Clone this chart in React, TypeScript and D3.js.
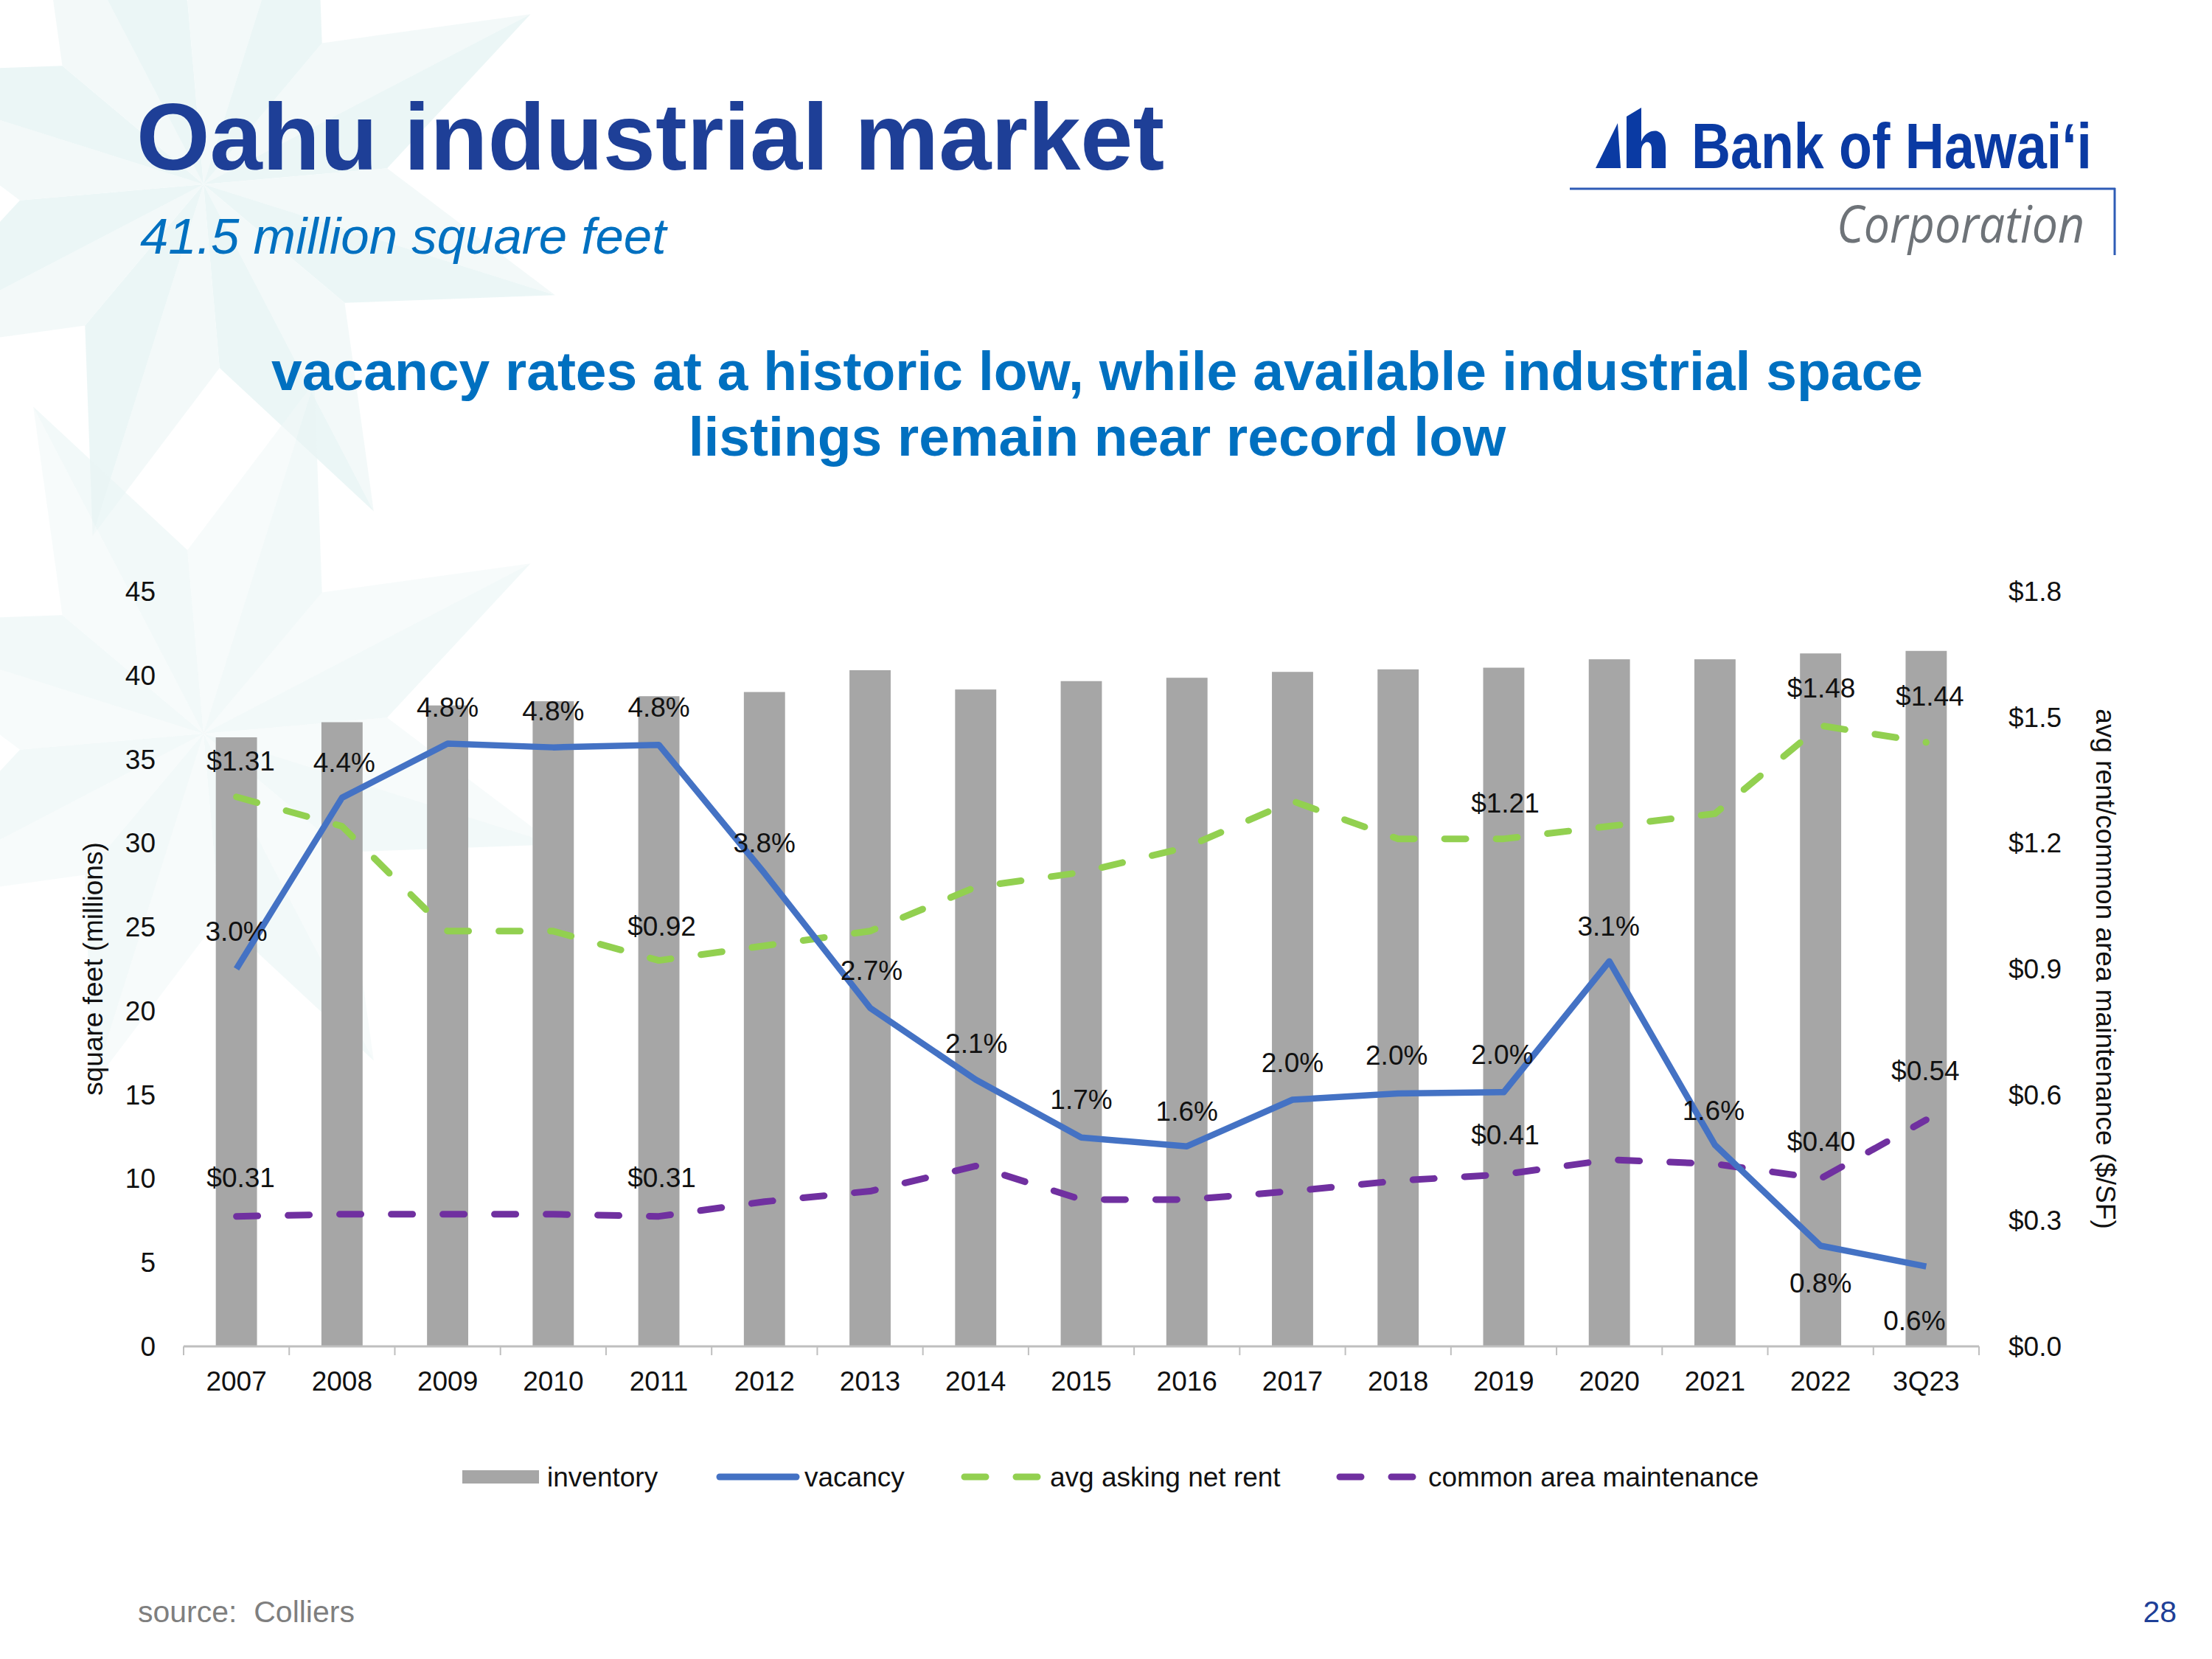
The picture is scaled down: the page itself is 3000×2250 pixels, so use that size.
import React from 'react';
import * as d3 from 'd3';

// ---------- data ----------
const categories = ['2007', '2008', '2009', '2010', '2011', '2012', '2013', '2014', '2015', '2016', '2017', '2018', '2019', '2020', '2021', '2022', '3Q23'];
const inventory = [36.3, 37.2, 38.2, 38.45, 38.75, 39.0, 40.3, 39.15, 39.65, 39.85, 40.2, 40.35, 40.45, 40.95, 40.95, 41.3, 41.45];
const vacancy = [3.0, 4.36, 4.79, 4.76, 4.78, 3.76, 2.69, 2.12, 1.66, 1.59, 1.96, 2.01, 2.02, 3.06, 1.6, 0.8, 0.635];
const rent = [1.31, 1.24, 0.99, 0.99, 0.92, 0.955, 0.99, 1.095, 1.13, 1.19, 1.3, 1.21, 1.21, 1.24, 1.27, 1.48, 1.44];
const cam = [0.31, 0.315, 0.315, 0.315, 0.31, 0.345, 0.37, 0.43, 0.35, 0.35, 0.37, 0.395, 0.41, 0.445, 0.435, 0.4, 0.54];
const leftTicks = [0, 5, 10, 15, 20, 25, 30, 35, 40, 45];
const rightTicks = [0, 0.3, 0.6, 0.9, 1.2, 1.5, 1.8];
const rentLabelIdx = [0, 4, 12, 15, 16];
const camLabelIdx = [0, 4, 12, 15, 16];
const legendItems = ['inventory', 'vacancy', 'avg asking net rent', 'common area maintenance'];

// ---------- label layout (offsets from the point) ----------
const vacLabelOffset: [number, number][] = [
  [0, -38], [3, -35], [0, -37], [0, -37], [0, -38], [0, -28], [2, -38], [1, -36], [0, -39],
  [0, -35], [0, -37], [-2, -39], [-2, -38], [-1, -35], [-2, -34], [0, 64], [-16, 86],
];
const rentLabelOffset: [number, number][] = [[6, -36], [4, -34], [2, -36], [1, -38], [5, -50]];
const camLabelOffset: [number, number][] = [[6, -40], [4, -40], [2, -41], [1, -37], [-1, -54]];

const FONT = 'Liberation Sans, Arial, sans-serif';
const C = {
  bar: '#A6A6A6',
  vac: '#4472C4',
  rent: '#92D050',
  cam: '#7030A0',
  title: '#1E3F97',
  head: '#0070C0',
  text: '#111111',
  axis: '#BFBFBF',
};

function starFacets(cx: number, cy: number, R: number, r: number, rot: number) {
  const out: { d: string; shade: number }[] = [];
  for (let k = 0; k < 8; k++) {
    const a = ((rot + k * 45) * Math.PI) / 180;
    const a1 = a - (22.5 * Math.PI) / 180;
    const a2 = a + (22.5 * Math.PI) / 180;
    const tip = [cx + R * Math.cos(a), cy + R * Math.sin(a)];
    const s1 = [cx + r * Math.cos(a1), cy + r * Math.sin(a1)];
    const s2 = [cx + r * Math.cos(a2), cy + r * Math.sin(a2)];
    out.push({ d: `M${cx},${cy}L${s1[0]},${s1[1]}L${tip[0]},${tip[1]}Z`, shade: 0 });
    out.push({ d: `M${cx},${cy}L${s2[0]},${s2[1]}L${tip[0]},${tip[1]}Z`, shade: 1 });
  }
  return out;
}

export default function App() {
  const W = 3000;
  const H = 2250;
  const x0 = 249;
  const x1 = 2684;
  const yBase = 1826;
  const yTop = 802;

  const x = d3.scaleBand<string>().domain(categories).range([x0, x1]).padding(0);
  const bw = x.bandwidth();
  const cx = (c: string) => (x(c) as number) + bw / 2;
  const barW = bw * 0.39;

  const yL = d3.scaleLinear().domain([0, 45]).range([yBase, yTop]);
  const yR = d3.scaleLinear().domain([0, 1.8]).range([yBase, yTop]);
  const yV = d3.scaleLinear().domain([0, 6]).range([yBase, yTop]);

  const vacLine = d3.line<number>().x((_, i) => cx(categories[i])).y((d) => yV(d));
  const rentLine = d3.line<number>().x((_, i) => cx(categories[i])).y((d) => yR(d));
  const camLine = d3.line<number>().x((_, i) => cx(categories[i])).y((d) => yR(d));

  const fmtR = d3.format('$.1f');
  const fmtD = (v: number) => '$' + v.toFixed(2);

  const boundaries = d3.range(categories.length + 1).map((i) => x0 + i * bw);

  const stars = [
    ...starFacets(276, 250, 500, 250, -27.5).map((f) => ({ ...f, op: 0.95 })),
    ...starFacets(276, 995, 500, 250, -27.5).map((f) => ({ ...f, op: 0.6 })),
  ];

  const lblStyle = { fontFamily: FONT, fontSize: 37, fill: C.text } as const;

  return (
    <svg
      width={W}
      height={H}
      viewBox={`0 0 ${W} ${H}`}
      style={{ position: 'absolute', left: 0, top: 0, display: 'block', background: '#fff' }}
    >
      <rect x={0} y={0} width={W} height={H} fill="#ffffff" />
      {/* decorative background stars */}
      <g>
        {stars.map((s, i) => (
          <path key={i} d={s.d} fill={s.shade ? '#EAF5F5' : '#F2F9F9'} opacity={s.op} />
        ))}
      </g>

      {/* header */}
      <text x={185} y={230} fontFamily={FONT} fontWeight="bold" fontSize={128} fill={C.title}>
        Oahu industrial market
      </text>
      <text x={190} y={344} fontFamily={FONT} fontStyle="italic" fontSize={69} fill={C.head}>
        41.5 million square feet
      </text>
      <text x={1488} y={529} textAnchor="middle" fontFamily={FONT} fontWeight="bold" fontSize={75} fill={C.head}>
        vacancy rates at a historic low, while available industrial space
      </text>
      <text x={1488} y={618} textAnchor="middle" fontFamily={FONT} fontWeight="bold" fontSize={75} fill={C.head}>
        listings remain near record low
      </text>

      {/* logo */}
      <g>
        <path d="M2164,228 L2194,167 L2198,228 Z" fill="#0A3AA3" />
        <path
          d="M2206,228 L2206,158 L2226,146 L2226,192 C2230,180 2241,176 2248,178 C2256,181 2259,190 2259,200 L2259,228 L2240,228 L2240,202 C2240,194 2236,192 2232,193 C2228,195 2226,200 2226,204 L2226,228 Z"
          fill="#0A3AA3"
        />
        <text
          x={2294}
          y={228}
          fontFamily="'Liberation Sans Narrow', 'Liberation Sans', Arial, sans-serif"
          fontWeight="bold"
          fontSize={88}
          fill="#0A3AA3"
          textLength={543}
          lengthAdjust="spacingAndGlyphs"
        >
          Bank of Hawai‘i
        </text>
        <line x1={2129} y1={256} x2={2869} y2={256} stroke="#2F5CB6" strokeWidth={3} />
        <line x1={2868} y1={255} x2={2868} y2={346} stroke="#2F5CB6" strokeWidth={3} />
        <text
          x={2491}
          y={329}
          fontFamily="'Open Sans', 'Noto Sans', sans-serif"
          fontStyle="italic"
          fontSize={70}
          fill="#6E7378"
          textLength={336}
          lengthAdjust="spacingAndGlyphs"
        >
          Corporation
        </text>
      </g>

      {/* bars */}
      <g>
        {inventory.map((v, i) => (
          <rect
            key={categories[i]}
            x={cx(categories[i]) - barW / 2}
            y={yL(v)}
            width={barW}
            height={yBase - yL(v)}
            fill={C.bar}
          />
        ))}
      </g>

      {/* x axis */}
      <g>
        <line x1={x0} y1={yBase} x2={x1} y2={yBase} stroke={C.axis} strokeWidth={3} />
        {boundaries.map((b, i) => (
          <line key={i} x1={b} y1={yBase} x2={b} y2={yBase + 12} stroke={C.axis} strokeWidth={2} />
        ))}
        {categories.map((c) => (
          <text key={c} x={cx(c)} y={1886} textAnchor="middle" {...lblStyle}>
            {c}
          </text>
        ))}
      </g>

      {/* left axis */}
      <g>
        {leftTicks.map((t) => (
          <text key={t} x={211} y={yL(t)} dy="0.35em" textAnchor="end" {...lblStyle}>
            {t}
          </text>
        ))}
        <text
          transform={`translate(126,${(yBase + yTop) / 2}) rotate(-90)`}
          textAnchor="middle"
          dy="0.35em"
          {...lblStyle}
        >
          square feet (millions)
        </text>
      </g>

      {/* right axis */}
      <g>
        {rightTicks.map((t) => (
          <text key={t} x={2724} y={yR(t)} dy="0.35em" textAnchor="start" {...lblStyle}>
            {fmtR(t)}
          </text>
        ))}
        <text
          transform={`translate(2856,${(yBase + yTop) / 2}) rotate(90)`}
          textAnchor="middle"
          dy="0.35em"
          {...lblStyle}
        >
          avg rent/common area maintenance ($/SF)
        </text>
      </g>

      {/* lines */}
      <path
        d={rentLine(rent) as string}
        fill="none"
        stroke={C.rent}
        strokeWidth={9}
        strokeDasharray="29 41"
        strokeLinecap="round"
        strokeLinejoin="round"
      />
      <path
        d={camLine(cam) as string}
        fill="none"
        stroke={C.cam}
        strokeWidth={9}
        strokeDasharray="29 41"
        strokeLinecap="round"
        strokeLinejoin="round"
      />
      <path
        d={vacLine(vacancy) as string}
        fill="none"
        stroke={C.vac}
        strokeWidth={8.5}
        strokeLinejoin="round"
      />

      {/* data labels */}
      <g>
        {vacancy.map((v, i) => (
          <text
            key={'v' + i}
            x={cx(categories[i]) + vacLabelOffset[i][0]}
            y={yV(v) + vacLabelOffset[i][1]}
            textAnchor="middle"
            {...lblStyle}
          >
            {v.toFixed(1) + '%'}
          </text>
        ))}
        {rentLabelIdx.map((i, k) => (
          <text
            key={'r' + i}
            x={cx(categories[i]) + rentLabelOffset[k][0]}
            y={yR(rent[i]) + rentLabelOffset[k][1]}
            textAnchor="middle"
            {...lblStyle}
          >
            {fmtD(rent[i])}
          </text>
        ))}
        {camLabelIdx.map((i, k) => (
          <text
            key={'c' + i}
            x={cx(categories[i]) + camLabelOffset[k][0]}
            y={yR(cam[i]) + camLabelOffset[k][1]}
            textAnchor="middle"
            {...lblStyle}
          >
            {fmtD(cam[i])}
          </text>
        ))}
      </g>

      {/* legend */}
      <g>
        <rect x={627} y={1994} width={104} height={18} fill={C.bar} />
        <text x={742} y={2016} {...lblStyle}>{legendItems[0]}</text>
        <line x1={976} y1={2003} x2={1080} y2={2003} stroke={C.vac} strokeWidth={9} strokeLinecap="round" />
        <text x={1091} y={2016} {...lblStyle}>{legendItems[1]}</text>
        <line x1={1308} y1={2003} x2={1408} y2={2003} stroke={C.rent} strokeWidth={9} strokeLinecap="round" strokeDasharray="29 41" />
        <text x={1424} y={2016} {...lblStyle}>{legendItems[2]}</text>
        <line x1={1817} y1={2003} x2={1921} y2={2003} stroke={C.cam} strokeWidth={9} strokeLinecap="round" strokeDasharray="29 41" />
        <text x={1937} y={2016} {...lblStyle}>{legendItems[3]}</text>
      </g>

      {/* footer */}
      <text x={187} y={2200} fontFamily={FONT} fontSize={41} fill="#7F7F7F" style={{ whiteSpace: 'pre' }}>
        {'source:  Colliers'}
      </text>
      <text x={2952} y={2200} textAnchor="end" fontFamily={FONT} fontSize={41} fill="#1E3F97">
        28
      </text>
    </svg>
  );
}
